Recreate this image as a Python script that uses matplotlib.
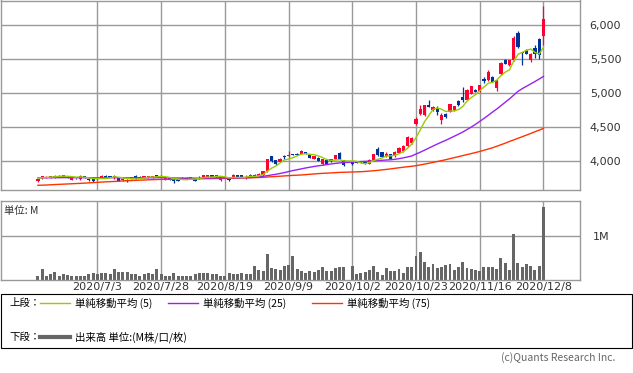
import numpy as np
import pandas as pd
import matplotlib
matplotlib.use("Agg")
import matplotlib.pyplot as plt
from matplotlib.patches import Rectangle
from matplotlib.lines import Line2D

nan = np.nan

# trading days (Japanese market holidays removed, 10/1 kept as an empty slot)
holidays = ["2020-07-23", "2020-07-24", "2020-08-10", "2020-09-21",
            "2020-09-22", "2020-11-03", "2020-11-23"]
tick_dates = ["2020/7/3", "2020/7/28", "2020/8/19", "2020/9/9",
              "2020/10/2", "2020/10/23", "2020/11/16", "2020/12/8"]
price_ticks = [4000, 4500, 5000, 5500, 6000]

opens = [3710, 3755, 3765, 3760, 3760, 3792, 3775, 3770, 3732, 3755,
         3735, 3770, 3745, 3735, 3735, 3760, 3790, 3780, 3750, 3750,
         3720, 3725, 3752, 3790, 3775, 3760, 3762, 3770, 3795, 3790,
         3735, 3755, 3730, 3722, 3760, 3760, 3760, 3735, 3768, 3760,
         3770, 3799, 3798, 3730, 3760, 3745, 3760, 3799, 3799, 3760,
         3804, 3804, 3784, 3794, 3858, 4078, 4015, 3990, 4078, 4078,
         4108, 4113, 4113, 4133, 4098, 4039, 4054, 3956, 4025, 4029,
         4039, 4127, 4015, nan, 3990, 3988, 3982, 3990, 3966, 4025,
         4186, 4137, 4074, 4103, 4075, 4130, 4150, 4222, 4270, 4555,
         4704, 4680, 4826, 4753, 4792, 4616, 4704, 4729, 4753, 4890,
         4950, 4910, 4998, 5056, 5036, 5218, 5193, 5242, 5086, 5281,
         5487, 5413, 5487, 5888, 5600, 5633, 5487, 5672, 5795, 5848]
highs = [3740, 3785, 3780, 3788, 3800, 3795, 3805, 3775, 3765, 3762,
         3795, 3778, 3750, 3740, 3755, 3795, 3795, 3785, 3795, 3755,
         3750, 3735, 3775, 3795, 3780, 3785, 3790, 3780, 3802, 3798,
         3765, 3760, 3735, 3728, 3772, 3765, 3775, 3740, 3790, 3798,
         3800, 3805, 3802, 3775, 3770, 3750, 3808, 3802, 3802, 3794,
         3810, 3810, 3825, 3860, 4035, 4085, 4020, 4045, 4098, 4147,
         4115, 4118, 4165, 4140, 4103, 4080, 4060, 4040, 4030, 4035,
         4095, 4135, 4020, nan, 3995, 3995, 3990, 3995, 4030, 4108,
         4215, 4145, 4140, 4110, 4150, 4205, 4240, 4380, 4360, 4650,
         4830, 4830, 4900, 4810, 4810, 4705, 4712, 4850, 4820, 4900,
         5090, 5060, 5110, 5065, 5130, 5235, 5350, 5250, 5200, 5460,
         5500, 5495, 5850, 5915, 5615, 5660, 5590, 5710, 5820, 6280]
lows = [3700, 3745, 3755, 3755, 3755, 3765, 3770, 3755, 3725, 3745,
        3730, 3755, 3715, 3700, 3725, 3755, 3765, 3765, 3745, 3705,
        3715, 3700, 3745, 3745, 3750, 3755, 3755, 3760, 3770, 3772,
        3730, 3725, 3682, 3710, 3745, 3745, 3755, 3712, 3745, 3755,
        3765, 3765, 3765, 3710, 3750, 3715, 3755, 3765, 3765, 3735,
        3780, 3780, 3780, 3790, 3850, 3995, 3940, 3985, 4039, 4064,
        4090, 4090, 4108, 4108, 4045, 4030, 4000, 3940, 3955, 3995,
        4035, 4035, 3930, nan, 3950, 3975, 3970, 3960, 3960, 4020,
        4085, 4060, 4065, 4035, 4060, 4125, 4145, 4215, 4250, 4540,
        4680, 4675, 4800, 4745, 4685, 4548, 4640, 4720, 4745, 4820,
        4870, 4900, 4990, 5015, 5025, 5160, 5185, 5165, 5035, 5275,
        5430, 5400, 5480, 5675, 5420, 5580, 5460, 5520, 5510, 5705]
closes = [3735, 3780, 3775, 3782, 3792, 3770, 3798, 3762, 3760, 3750,
          3788, 3768, 3722, 3710, 3745, 3792, 3770, 3770, 3790, 3715,
          3745, 3712, 3770, 3750, 3760, 3780, 3782, 3775, 3775, 3780,
          3760, 3730, 3706, 3718, 3750, 3748, 3770, 3716, 3766, 3794,
          3799, 3770, 3770, 3770, 3755, 3721, 3804, 3770, 3770, 3775,
          3790, 3790, 3819, 3853, 4029, 4005, 3956, 4039, 4070, 4098,
          4100, 4098, 4157, 4113, 4054, 4074, 4005, 4034, 3966, 4000,
          4088, 4039, 3941, nan, 3955, 3983, 3978, 3966, 4025, 4103,
          4088, 4064, 4113, 4039, 4140, 4200, 4225, 4358, 4345, 4620,
          4768, 4826, 4802, 4802, 4729, 4680, 4655, 4841, 4812, 4826,
          4905, 5046, 5105, 5022, 5120, 5183, 5315, 5169, 5193, 5447,
          5438, 5487, 5819, 5682, 5594, 5584, 5584, 5574, 5560, 6098]

ma5 = [3755, 3760, 3764, 3768, 3773, 3780, 3783, 3781, 3776, 3768,
       3772, 3766, 3758, 3748, 3747, 3747, 3748, 3757, 3773, 3767,
       3758, 3746, 3746, 3738, 3747, 3754, 3768, 3769, 3774, 3778,
       3774, 3764, 3750, 3739, 3733, 3730, 3738, 3740, 3750, 3759,
       3769, 3769, 3780, 3781, 3773, 3757, 3764, 3764, 3764, 3768,
       3782, 3779, 3789, 3805, 3856, 3899, 3932, 3976, 4020, 4034,
       4053, 4081, 4105, 4113, 4104, 4099, 4081, 4056, 4027, 4016,
       4019, 4025, 4007, 4006, 4005, 4001, 3979, 3965, 3981, 4011,
       4032, 4049, 4079, 4081, 4089, 4111, 4143, 4192, 4254, 4350,
       4463, 4583, 4672, 4764, 4785, 4768, 4734, 4741, 4743, 4763,
       4808, 4886, 4939, 4981, 5040, 5095, 5149, 5162, 5196, 5261,
       5312, 5347, 5477, 5575, 5604, 5633, 5653, 5604, 5579, 5680]
ma25 = [3758, 3758, 3759, 3759, 3760, 3760, 3761, 3761, 3761, 3760,
        3760, 3760, 3759, 3758, 3758, 3758, 3759, 3760, 3760, 3759,
        3758, 3757, 3757, 3758, 3758, 3758, 3759, 3759, 3760, 3760,
        3759, 3758, 3756, 3755, 3755, 3754, 3754, 3753, 3753, 3754,
        3755, 3755, 3756, 3757, 3757, 3757, 3758, 3759, 3760, 3761,
        3763, 3765, 3768, 3780, 3790, 3800, 3810, 3822, 3835, 3850,
        3865, 3877, 3890, 3903, 3914, 3925, 3935, 3943, 3953, 3962,
        3970, 3977, 3983, 3986, 3990, 3994, 3997, 4000, 4003, 4007,
        4012, 4016, 4020, 4024, 4030, 4040, 4052, 4065, 4080, 4108,
        4135, 4165, 4195, 4225, 4255, 4283, 4310, 4340, 4370, 4400,
        4432, 4468, 4505, 4545, 4588, 4632, 4678, 4725, 4770, 4820,
        4870, 4920, 4975, 5030, 5070, 5105, 5140, 5175, 5212, 5250]
ma75 = [3648, 3650, 3652, 3656, 3659, 3662, 3665, 3668, 3671, 3674,
        3677, 3680, 3684, 3688, 3692, 3696, 3699, 3702, 3705, 3708,
        3712, 3715, 3718, 3721, 3724, 3726, 3729, 3731, 3733, 3735,
        3736, 3737, 3738, 3739, 3740, 3741, 3742, 3743, 3744, 3745,
        3746, 3747, 3748, 3749, 3750, 3751, 3752, 3753, 3755, 3757,
        3759, 3761, 3763, 3766, 3770, 3774, 3778, 3782, 3786, 3790,
        3794, 3797, 3800, 3805, 3810, 3815, 3820, 3824, 3827, 3830,
        3834, 3838, 3840, 3842, 3844, 3846, 3848, 3852, 3857, 3862,
        3868, 3875, 3882, 3889, 3898, 3906, 3914, 3921, 3928, 3937,
        3948, 3960, 3972, 3985, 3998, 4011, 4025, 4040, 4055, 4070,
        4085, 4100, 4115, 4130, 4146, 4164, 4182, 4200, 4222, 4245,
        4268, 4293, 4316, 4340, 4363, 4387, 4411, 4436, 4460, 4485]

# volume in millions
volume = [0.10, 0.26, 0.08, 0.14, 0.19, 0.10, 0.14, 0.12, 0.10, 0.10,
          0.10, 0.10, 0.13, 0.16, 0.13, 0.17, 0.17, 0.13, 0.26, 0.19,
          0.19, 0.19, 0.13, 0.13, 0.08, 0.13, 0.17, 0.13, 0.26, 0.13,
          0.10, 0.10, 0.17, 0.10, 0.10, 0.10, 0.10, 0.14, 0.17, 0.17,
          0.17, 0.14, 0.13, 0.10, 0.10, 0.17, 0.13, 0.13, 0.17, 0.13,
          0.14, 0.31, 0.235, 0.21, 0.60, 0.28, 0.26, 0.235, 0.31, 0.33,
          0.55, 0.26, 0.21, 0.17, 0.21, 0.19, 0.23, 0.30, 0.21, 0.21,
          0.28, 0.30, 0.30, nan, 0.32, 0.14, 0.17, 0.19, 0.23, 0.32,
          0.19, 0.12, 0.28, 0.21, 0.21, 0.26, 0.17, 0.30, 0.30, 0.55,
          0.64, 0.41, 0.30, 0.37, 0.28, 0.30, 0.35, 0.37, 0.23, 0.30,
          0.41, 0.28, 0.26, 0.23, 0.21, 0.30, 0.30, 0.30, 0.26, 0.50,
          0.39, 0.23, 1.05, 0.39, 0.30, 0.37, 0.32, 0.23, 0.32, 1.66]

# colours
UP = "#ff0033"
DOWN = "#003399"
C_MA5 = "#99cc00"
C_MA25 = "#9922ee"
C_MA75 = "#ff3300"
GRID = "#999999"
JP = ["Noto Sans CJK JP", "DejaVu Sans"]

days = pd.bdate_range("2020-06-15", "2020-12-08")
days = days[~days.isin(pd.to_datetime(holidays))]
day_labels = [f"{d.year}/{d.month}/{d.day}" for d in days]
tick_pos = [day_labels.index(t) for t in tick_dates]

x = np.arange(len(closes))
o = np.array(opens, float)
h = np.array(highs, float)
l = np.array(lows, float)
c = np.array(closes, float)
up = c >= o
down = c < o

W, H = 633, 373
fig = plt.figure(figsize=(W / 100, H / 100), dpi=100)


def box(x0, y0, x1, y1):
    return [x0 / W, 1 - y1 / H, (x1 - x0) / W, (y1 - y0) / H]


def fx(px):
    return px / W


def fy(py):
    return 1 - py / H


# price panel
ax = fig.add_axes(box(0.5, 0.5, 580, 190))
ax.set_xlim(-8.8, 127.6)
ax.set_ylim(3579, 6367)

body_bot = np.fmin(o, c)
body_h = np.fmax(np.abs(c - o), 10)
for mask, col in ((up, UP), (down, DOWN)):
    ax.vlines(x[mask], l[mask], h[mask], color=col, lw=0.9, zorder=2)
    ax.bar(x[mask], body_h[mask], bottom=body_bot[mask], width=0.76,
           color=col, linewidth=0, zorder=2)

ax.plot(x, ma75, color=C_MA75, lw=1.0, zorder=3)
ax.plot(x, ma25, color=C_MA25, lw=1.0, zorder=3)
ax.plot(x, ma5, color=C_MA5, lw=1.0, zorder=3)

ax.set_yticks(price_ticks)
ax.set_yticklabels([f"{v:,}" for v in price_ticks])
ax.yaxis.tick_right()
ax.set_xticks(tick_pos)
ax.set_xticklabels([])
ax.tick_params(length=0, labelsize=8, pad=7, colors="#333333")
ax.grid(True, color=GRID, lw=1.0, zorder=0)
ax.set_axisbelow(True)
for s in ax.spines.values():
    s.set_color(GRID)
    s.set_linewidth(1.0)

# volume panel
axv = fig.add_axes(box(0.5, 201, 580, 280))
axv.set_xlim(-8.8, 127.6)
axv.set_ylim(0, 1.795)
axv.bar(x, volume, width=0.7, color="#666666", linewidth=0, zorder=2)
axv.set_yticks([1])
axv.set_yticklabels(["1M"])
axv.yaxis.tick_right()
axv.set_xticks(tick_pos)
axv.set_xticklabels(tick_dates)
axv.tick_params(axis="y", length=0, labelsize=8, pad=9, colors="#333333")
axv.tick_params(axis="x", length=0, labelsize=8, pad=1.5, colors="#333333")
axv.grid(True, color=GRID, lw=1.0, zorder=0)
axv.set_axisbelow(True)
for s in axv.spines.values():
    s.set_color(GRID)
    s.set_linewidth(1.0)
fig.text(fx(4), fy(211), "単位: M", family=JP, fontsize=7.5, va="center",
         color="#333333")

# legend box
fig.add_artist(Rectangle((fx(0.5), fy(348)), 631.5 / W, 54 / H,
                         transform=fig.transFigure, fill=False,
                         ec="black", lw=0.8))
row1, row2 = 303, 337
fig.text(fx(9), fy(row1), "上段：", family=JP, fontsize=7.5, va="center")
fig.text(fx(9), fy(row2), "下段：", family=JP, fontsize=7.5, va="center")
legend_items = [(40, 70, 75, C_MA5, "単純移動平均 (5)"),
                (168, 198, 203, C_MA25, "単純移動平均 (25)"),
                (312, 342, 347, C_MA75, "単純移動平均 (75)")]
for x0, x1, xt, col, txt in legend_items:
    fig.add_artist(Line2D([fx(x0), fx(x1)], [fy(row1), fy(row1)],
                          transform=fig.transFigure, color=col, lw=1.0))
    fig.text(fx(xt), fy(row1), txt, family=JP, fontsize=7.5, va="center")
fig.add_artist(Line2D([fx(40), fx(70)], [fy(row2), fy(row2)],
                      transform=fig.transFigure, color="#666666", lw=3))
fig.text(fx(75), fy(row2), "出来高 単位:(M株/口/枚)", family=JP,
         fontsize=7.5, va="center")

fig.text(fx(615), fy(358), "(c)Quants Research Inc.", family=JP,
         fontsize=7.5, va="center", ha="right", color="#666666")

fig.savefig("out.png", dpi=100)
